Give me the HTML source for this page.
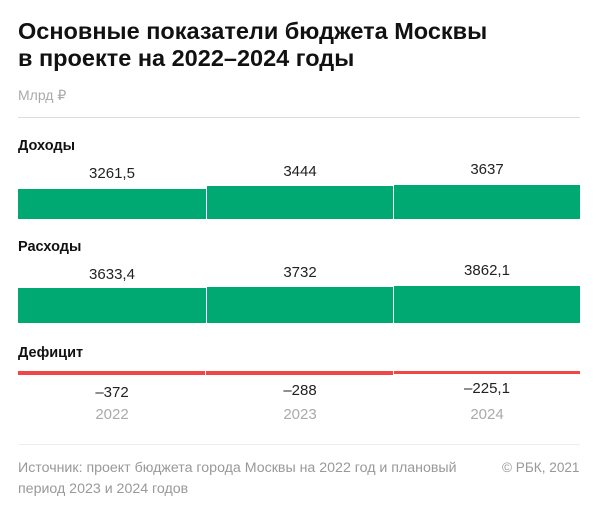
<!DOCTYPE html>
<html><head><meta charset="utf-8"><style>
body{margin:0;width:600px;height:518px;background:#fff;font-family:"Liberation Sans",sans-serif;position:relative;overflow:hidden}
.a{position:absolute;white-space:nowrap}
.t{left:18px;font-size:23.5px;font-weight:bold;color:#111;line-height:27px}
.lbl{left:18px;font-size:14.5px;font-weight:bold;color:#111}
.v{font-size:15px;color:#222;transform:translateX(-50%)}
.y{font-size:15px;color:#aaa;transform:translateX(-50%)}
.g{background:#00a971}
.r{background:#f04646}
.f{font-size:14.2px;color:#999}
</style></head><body>
<div class="a t" style="top:18px">Основные показатели бюджета Москвы</div>
<div class="a t" style="top:45px">в проекте на 2022–2024 годы</div>
<div class="a f" style="left:18px;top:87px;font-size:14px;color:#aaa">Млрд ₽</div>
<div class="a" style="left:18px;top:117px;width:562px;height:1px;background:#ddd"></div>

<div class="a lbl" style="top:138px">Доходы</div>
<div class="a v" style="left:112px;top:165px">3261,5</div>
<div class="a v" style="left:300px;top:163px">3444</div>
<div class="a v" style="left:487px;top:161px">3637</div>
<div class="a g" style="left:18px;top:189px;width:188px;height:30px"></div>
<div class="a g" style="left:207px;top:186px;width:186px;height:33px"></div>
<div class="a g" style="left:394px;top:185px;width:186px;height:34px"></div>

<div class="a lbl" style="top:239px">Расходы</div>
<div class="a v" style="left:112px;top:266px">3633,4</div>
<div class="a v" style="left:300px;top:264px">3732</div>
<div class="a v" style="left:487px;top:262px">3862,1</div>
<div class="a g" style="left:18px;top:288px;width:188px;height:35px"></div>
<div class="a g" style="left:207px;top:287px;width:186px;height:36px"></div>
<div class="a g" style="left:394px;top:286px;width:186px;height:37px"></div>

<div class="a lbl" style="top:345px">Дефицит</div>
<div class="a r" style="left:18px;top:371px;width:187px;height:4px"></div>
<div class="a r" style="left:206px;top:371px;width:187px;height:3.5px"></div>
<div class="a r" style="left:394px;top:371px;width:186px;height:3px"></div>
<div class="a v" style="left:112px;top:384px">–372</div>
<div class="a v" style="left:300px;top:382px">–288</div>
<div class="a v" style="left:487px;top:380px">–225,1</div>
<div class="a y" style="left:112px;top:406px">2022</div>
<div class="a y" style="left:300px;top:406px">2023</div>
<div class="a y" style="left:487px;top:406px">2024</div>

<div class="a" style="left:18px;top:444px;width:562px;height:1px;background:#eee"></div>
<div class="a f" style="left:18px;top:460px">Источник:  проект бюджета города Москвы на 2022 год и плановый</div>
<div class="a f" style="left:18px;top:481px">период 2023 и 2024 годов</div>
<div class="a f" style="left:502px;top:460px;font-size:13.6px">©  РБК, 2021</div>
</body></html>
